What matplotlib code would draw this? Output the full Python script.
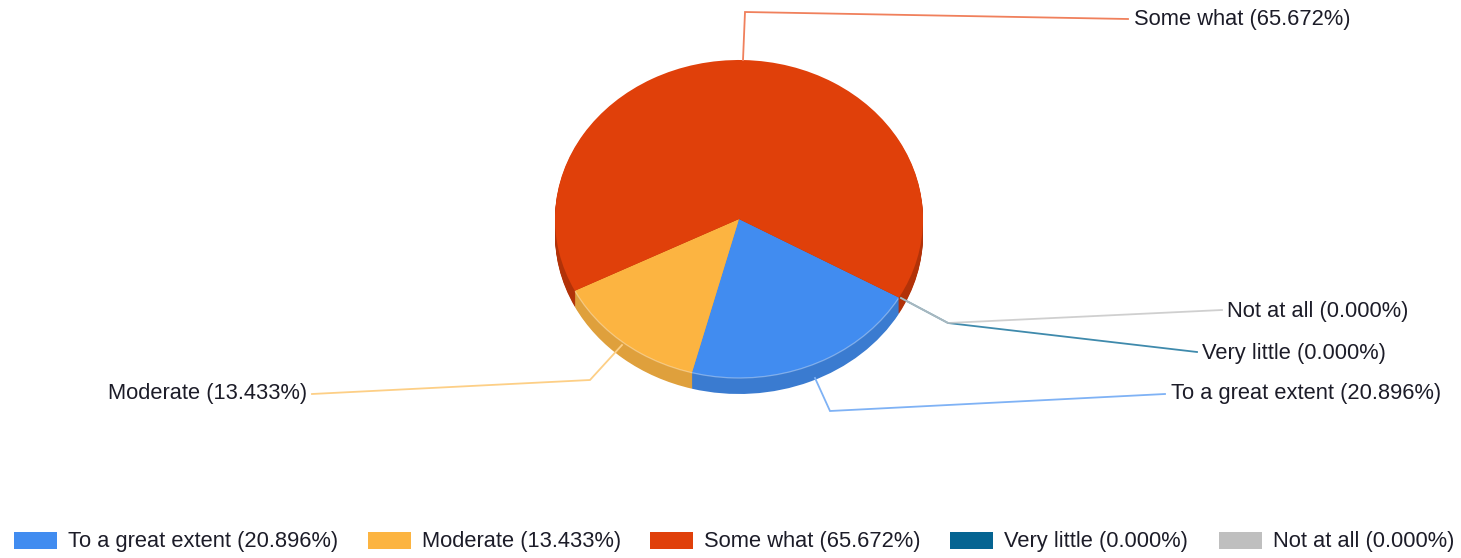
import matplotlib
matplotlib.use('Agg')
import matplotlib.pyplot as plt
from matplotlib.patches import Rectangle, Arc

plt.rcParams['font.family'] = ['Liberation Sans', 'DejaVu Sans']

W, H = 1461, 558

# chart data
categories = ['To a great extent', 'Moderate', 'Some what', 'Very little', 'Not at all']
values = [20.896, 13.433, 65.672, 0.0, 0.0]
colors = ['#418CF0', '#FCB441', '#E0400A', '#056492', '#BFBFBF']
wall_colors = ['#3A7BD0', '#DFA03C', '#B23208', '#056492', '#BFBFBF']

labels = [f'{c} ({v:.3f}%)' for c, v in zip(categories, values)]

# pie geometry in pixels
cx, cy = 739, 219
rx, ry = 184, 159
depth = 16
start_angle = -29.6

fig = plt.figure(figsize=(W / 100, H / 100), dpi=100, facecolor='white')

# pie axes: pie() uses xlim/ylim of +-1.25, so size the box to squash it into an ellipse
box_w = 2.5 * rx
box_h = 2.5 * ry
ax = fig.add_axes([(cx - box_w / 2) / W, (H - cy - box_h / 2) / H, box_w / W, box_h / H])

# side wall, stacked from the bottom up
for d in range(depth, 0, -1):
    ax.pie(values, colors=wall_colors, startangle=start_angle, counterclock=False,
           center=(0, -d / ry), radius=1, normalize=True)
ax.pie(values, colors=colors, startangle=start_angle, counterclock=False, radius=1, normalize=True)

# faint light seam along the front edge of the top face
ax.add_patch(Arc((0, 0), 2, 2, theta1=207, theta2=330, color='white', alpha=0.35, lw=0.9))

ax.set_aspect('auto')
ax.set_xlim(-1.25, 1.25)
ax.set_ylim(-1.25, 1.25)
ax.axis('off')

# overlay in pixel coordinates for leader lines and legend
ov = fig.add_axes([0, 0, 1, 1], facecolor='none')
ov.set_xlim(0, W)
ov.set_ylim(H, 0)
ov.axis('off')

# leader lines
leaders = {
    'Some what': ([743, 745, 1128], [60, 12, 19], '#F0805C'),
    'Moderate': ([622, 590, 312], [345, 380, 394], '#FDCF86'),
    'To a great extent': ([815, 830, 1165], [378, 411, 394], '#7FB2F5'),
    'Very little': ([901, 948, 1197], [298, 323, 352], '#3F8AAC'),
    'Not at all': ([901, 948, 1222], [298, 323, 310], '#C4C4C4'),
}
for name, (xs, ys, col) in leaders.items():
    ov.plot(xs, ys, color=col, lw=1.3, solid_joinstyle='miter',
            alpha=0.8 if name == 'Not at all' else 1)

# slice labels
label_pos = {
    'Some what': (1134, 20),
    'Not at all': (1227, 311),
    'Very little': (1202, 353),
    'To a great extent': (1171, 393),
    'Moderate': (108, 393),
}
text_col = '#1C1C28'
font_size = 15.75
for name, lab in zip(categories, labels):
    x, y = label_pos[name]
    ov.text(x, y, lab, fontsize=font_size, color=text_col, ha='left', va='center')

# legend
swatch_x = [14, 368, 650, 950, 1219]
for x, col, lab in zip(swatch_x, colors, labels):
    ov.add_patch(Rectangle((x, 532), 43, 17, facecolor=col, edgecolor='none'))
    ov.text(x + 54, 542, lab, fontsize=font_size, color=text_col, ha='left', va='center')

fig.savefig('out.png', dpi=100)
